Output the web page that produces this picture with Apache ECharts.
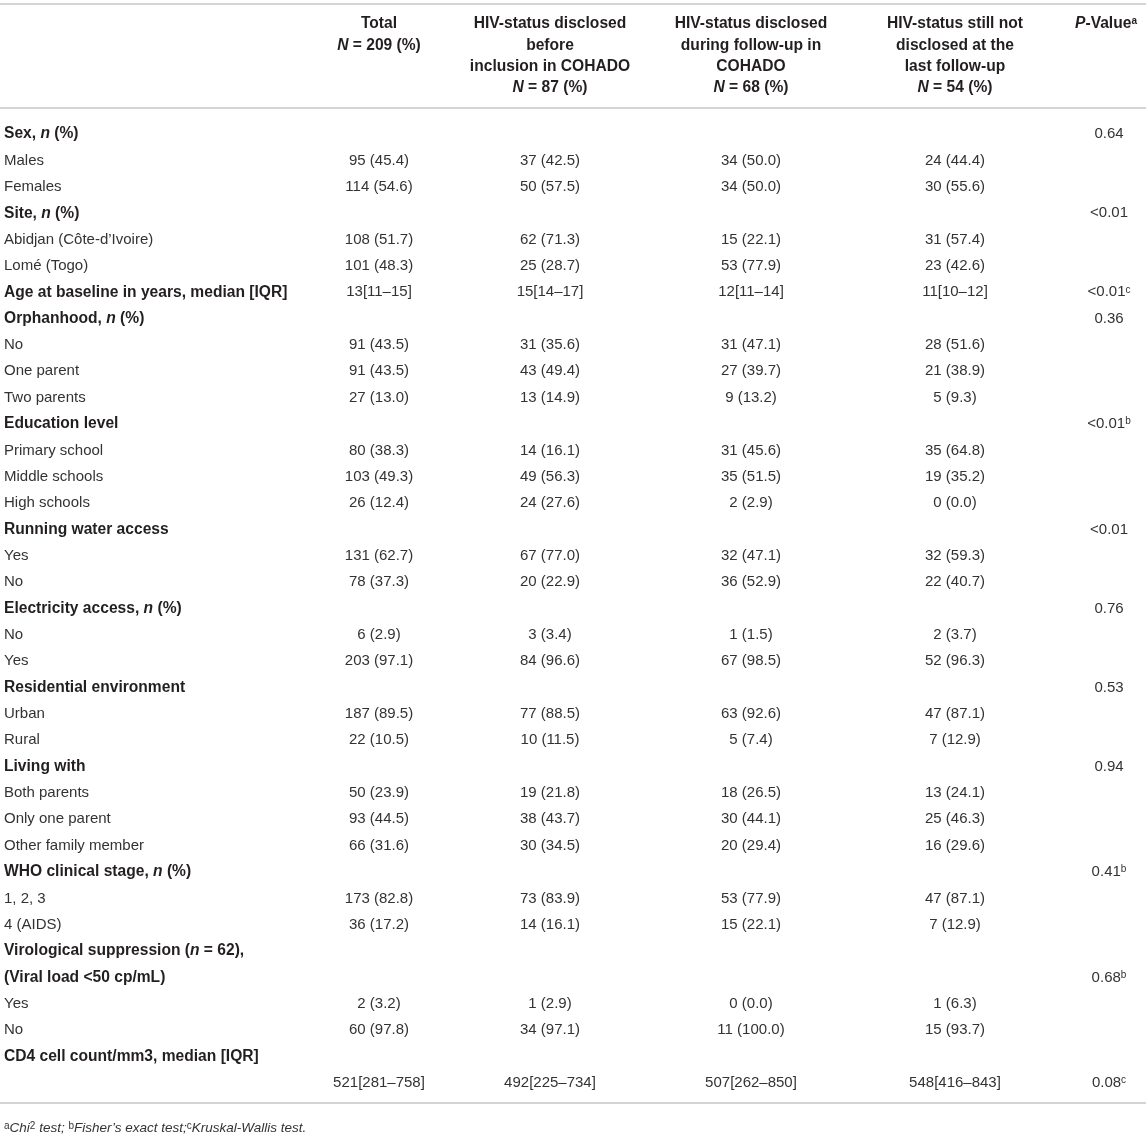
<!DOCTYPE html>
<html>
<head>
<meta charset="UTF-8">
<title>COHADO baseline characteristics</title>
<script type="text/javascript" src="https://cdn.jsdelivr.net/npm/echarts@6/dist/echarts.min.js"></script>
<style>
  html, body { margin: 0; padding: 0; background: #fff; }
</style>
</head>
<body>
<div id="main" style="width:1146px;height:1134px"></div>

<script type="text/javascript">
	// table rows (bold rows are the variable headings)
	var rowLabels = ['Sex, n (%)', 'Males', 'Females', 'Site, n (%)', 'Abidjan (Côte-d\u2019Ivoire)', 'Lomé (Togo)',
		'Age at baseline in years, median [IQR]', 'Orphanhood, n (%)', 'No', 'One parent', 'Two parents',
		'Education level', 'Primary school', 'Middle schools', 'High schools', 'Running water access', 'Yes', 'No',
		'Electricity access, n (%)', 'No', 'Yes', 'Residential environment', 'Urban', 'Rural', 'Living with',
		'Both parents', 'Only one parent', 'Other family member', 'WHO clinical stage, n (%)', '1, 2, 3', '4 (AIDS)',
		'Virological suppression (n = 62),', '(Viral load <50 cp/mL)', 'Yes', 'No', 'CD4 cell count/mm3, median [IQR]', ''];
	var boldRows = [0, 3, 6, 7, 11, 15, 18, 21, 24, 28, 31, 32, 35];

	var totalCol = ['', '95 (45.4)', '114 (54.6)', '', '108 (51.7)', '101 (48.3)', '13[11–15]', '', '91 (43.5)', '91 (43.5)', '27 (13.0)',
		'', '80 (38.3)', '103 (49.3)', '26 (12.4)', '', '131 (62.7)', '78 (37.3)', '', '6 (2.9)', '203 (97.1)', '', '187 (89.5)', '22 (10.5)',
		'', '50 (23.9)', '93 (44.5)', '66 (31.6)', '', '173 (82.8)', '36 (17.2)', '', '', '2 (3.2)', '60 (97.8)', '', '521[281–758]'];
	var beforeCol = ['', '37 (42.5)', '50 (57.5)', '', '62 (71.3)', '25 (28.7)', '15[14–17]', '', '31 (35.6)', '43 (49.4)', '13 (14.9)',
		'', '14 (16.1)', '49 (56.3)', '24 (27.6)', '', '67 (77.0)', '20 (22.9)', '', '3 (3.4)', '84 (96.6)', '', '77 (88.5)', '10 (11.5)',
		'', '19 (21.8)', '38 (43.7)', '30 (34.5)', '', '73 (83.9)', '14 (16.1)', '', '', '1 (2.9)', '34 (97.1)', '', '492[225–734]'];
	var duringCol = ['', '34 (50.0)', '34 (50.0)', '', '15 (22.1)', '53 (77.9)', '12[11–14]', '', '31 (47.1)', '27 (39.7)', '9 (13.2)',
		'', '31 (45.6)', '35 (51.5)', '2 (2.9)', '', '32 (47.1)', '36 (52.9)', '', '1 (1.5)', '67 (98.5)', '', '63 (92.6)', '5 (7.4)',
		'', '18 (26.5)', '30 (44.1)', '20 (29.4)', '', '53 (77.9)', '15 (22.1)', '', '', '0 (0.0)', '11 (100.0)', '', '507[262–850]'];
	var notYetCol = ['', '24 (44.4)', '30 (55.6)', '', '31 (57.4)', '23 (42.6)', '11[10–12]', '', '28 (51.6)', '21 (38.9)', '5 (9.3)',
		'', '35 (64.8)', '19 (35.2)', '0 (0.0)', '', '32 (59.3)', '22 (40.7)', '', '2 (3.7)', '52 (96.3)', '', '47 (87.1)', '7 (12.9)',
		'', '13 (24.1)', '25 (46.3)', '16 (29.6)', '', '47 (87.1)', '7 (12.9)', '', '', '1 (6.3)', '15 (93.7)', '', '548[416–843]'];
	var pValues = ['0.64', '', '', '<0.01', '', '', '<0.01', '0.36', '', '', '', '<0.01', '', '', '', '<0.01', '', '',
		'0.76', '', '', '0.53', '', '', '0.94', '', '', '', '0.41', '', '', '', '0.68', '', '', '', '0.08'];
	var pNotes = ['', '', '', '', '', '', 'c', '', '', '', '', 'b', '', '', '', '', '', '',
		'', '', '', '', '', '', '', '', '', '', 'b', '', '', '', 'b', '', '', '', 'c'];

	// column headings
	var groupTitles = [
		['Total'],
		['HIV-status disclosed', 'before', 'inclusion in COHADO'],
		['HIV-status disclosed', 'during follow-up in', 'COHADO'],
		['HIV-status still not', 'disclosed at the', 'last follow-up']
	];
	var groupN = [209, 87, 68, 54];
	var footnote = '{sup|a}{it|Chi}{sup|2}{it| test; }{sup|b}{it|Fisher\u2019s exact test;}{sup|c}{it|Kruskal-Wallis test.}';

	// layout (pixels)
	var W = 1146;
	var FONT = '"Liberation Sans", Arial, Helvetica, sans-serif';
	var DARK = '#231f20';
	var TXT = '#333333';
	var RULE = '#c6c6c6';
	var labelX = 4;
	var colX = [379, 550, 751, 955];
	var pX = 1109;
	var headY = [23, 45, 66, 87];

	var rich = {
		b: { fontWeight: 'bold', fontSize: 15.6, fontFamily: FONT, fill: DARK },
		bi: { fontWeight: 'bold', fontStyle: 'italic', fontSize: 15.6, fontFamily: FONT, fill: DARK },
		r: { fontSize: 15, fontFamily: FONT, fill: TXT },
		sup: { fontSize: 10, fontFamily: FONT, fill: TXT, verticalAlign: 'top', lineHeight: 7 },
		bsup: { fontSize: 10, fontWeight: 'bold', fontFamily: FONT, fill: DARK, verticalAlign: 'top', lineHeight: 7 },
		it: { fontSize: 13.5, fontStyle: 'italic', fontFamily: FONT, fill: TXT }
	};

	function labelText(i) {
		var s = rowLabels[i];
		if (boldRows.indexOf(i) < 0) return '{r|' + s + '}';
		// italic "n" inside the bold headings
		return '{b|' + s.replace(/\bn\b/g, '}{bi|n}{b|') + '}';
	}

	function textEl(x, y, text, align) {
		return {
			type: 'text', x: x, y: y,
			style: {
				text: text, rich: rich, align: align, textAlign: align,
				verticalAlign: 'middle', textVerticalAlign: 'middle',
				fontSize: 15, fontFamily: FONT, fill: TXT
			}
		};
	}

	function columnSeries(name, getText, x, align) {
		return {
			type: 'custom',
			name: name,
			coordinateSystem: 'cartesian2d',
			silent: true,
			data: rowLabels.map(function (d, i) { return [x, i]; }),
			encode: { x: 0, y: 1 },
			renderItem: function (params, api) {
				var t = getText(params.dataIndex);
				if (!t) return null;
				var p = api.coord([api.value(0), api.value(1)]);
				return textEl(p[0], p[1], t, align);
			}
		};
	}

	function cell(arr) {
		return function (i) { return arr[i] ? '{r|' + arr[i] + '}' : ''; };
	}

	var graphic = [
		{ type: 'line', shape: { x1: 0, y1: 4, x2: W, y2: 4 }, style: { stroke: RULE, lineWidth: 1.6 } },
		{ type: 'line', shape: { x1: 0, y1: 108, x2: W, y2: 108 }, style: { stroke: RULE, lineWidth: 1.6 } },
		{ type: 'line', shape: { x1: 0, y1: 1103, x2: W, y2: 1103 }, style: { stroke: RULE, lineWidth: 1.6 } },
		textEl(pX - 3, headY[0] + 1, '{bi|P}{b|-Value}{bsup|a}', 'center'),
		textEl(labelX, 1128, footnote, 'left')
	];
	groupTitles.forEach(function (lines, c) {
		lines.forEach(function (t, k) {
			graphic.push(textEl(colX[c], headY[k] + 1, '{b|' + t + '}', 'center'));
		});
		graphic.push(textEl(colX[c], headY[lines.length] + 1, '{bi|N}{b| = ' + groupN[c] + ' (%)}', 'center'));
	});

	var mychart = echarts.init(document.getElementById('main'));
	var option = {
		animation: false,
		backgroundColor: '#ffffff',
		grid: { left: 0, right: 0, top: 121, bottom: 38 },
		xAxis: { type: 'value', min: 0, max: W, show: false },
		yAxis: { type: 'category', data: rowLabels.map(function (d, i) { return 'r' + i; }), inverse: true, show: false },
		graphic: graphic,
		series: [
			columnSeries('label', labelText, labelX, 'left'),
			columnSeries('Total', cell(totalCol), colX[0], 'center'),
			columnSeries('Before inclusion', cell(beforeCol), colX[1], 'center'),
			columnSeries('During follow-up', cell(duringCol), colX[2], 'center'),
			columnSeries('Not disclosed', cell(notYetCol), colX[3], 'center'),
			columnSeries('P-Value', function (i) {
				if (!pValues[i]) return '';
				return '{r|' + pValues[i] + '}' + (pNotes[i] ? '{sup|' + pNotes[i] + '}' : '');
			}, pX, 'center')
		]
	};
	mychart.setOption(option);
</script>
</body>
</html>
